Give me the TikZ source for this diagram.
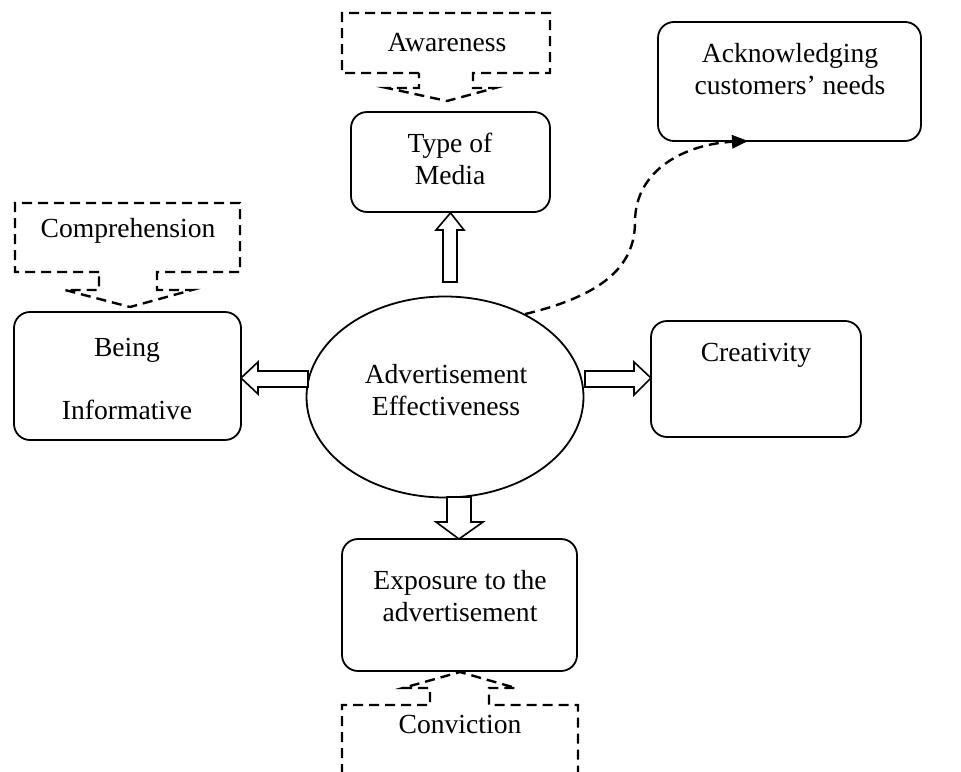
\documentclass[tikz,border=0pt]{standalone}
\usepackage{fontspec}
\setmainfont{Liberation Serif}
\usetikzlibrary{arrows.meta,shapes.geometric}
\begin{document}
\begin{tikzpicture}[x=1pt,y=-1pt,
  box/.style={draw,line width=1.8pt,rounded corners=16pt,inner sep=0pt},
  txt/.style={font=\fontsize{27.6}{32.5}\selectfont,align=center,inner sep=0pt},
  dsh/.style={line width=2.4pt,dash pattern=on 10pt off 6pt},
  hollow/.style={draw,line width=1.6pt,fill=white,line join=miter}]
\clip (0,0) rectangle (961,771);
\fill[white] (0,0) rectangle (961,771);
% boxes
\node[box,minimum width=199pt,minimum height=100pt] (media) at (450.5,162) {};
\node[box,minimum width=227pt,minimum height=128pt] (inf) at (127.5,376) {};
\node[box,minimum width=210pt,minimum height=116pt] (cre) at (756,379) {};
\node[box,minimum width=235pt,minimum height=132pt] (exp) at (459.5,605) {};
\node[box,minimum width=263pt,minimum height=119pt] (ack) at (789.5,81.5) {};
\node[draw,ellipse,line width=1.8pt,minimum width=277pt,minimum height=201pt,inner sep=0pt] (eff) at (445,397) {};
% texts
\node[txt] (tmedia) at (450,159) {Type of\\Media};
\node[txt] (tbeing) at (127,350) {Being};
\node[txt] (tinf) at (127,410) {Informative};
\node[txt] (tcre) at (756,355) {Creativity};
\node[txt] (texp) at (460,596) {Exposure to the\\advertisement};
\node[txt] (tack) at (790,69) {Acknowledging\\customers’ needs};
\node[txt] (teff) at (446,390) {Advertisement\\Effectiveness};
\node[txt] (taw) at (447,43) {Awareness};
\node[txt] (tcomp) at (128,231) {Comprehension};
\node[txt] (tconv) at (460,724) {Conviction};
% callouts
\draw[dsh] (419,73) -- (342,73) -- (342,13) -- (550,13) -- (550,73) -- (473,73) -- (473,88) -- (495,88) -- (447,101) -- (387,88) -- (419,88) -- cycle;
\draw[dsh] (99,272) -- (15,272) -- (15,203) -- (240,203) -- (240,272) -- (157,272) -- (157,290) -- (192,290) -- (130,307) -- (65,290) -- (99,290) -- cycle;
\draw[dsh] (342,790) -- (342,705) -- (430,705) -- (430,688) -- (403,688) -- (460,672) -- (516,688) -- (489,688) -- (489,705) -- (578,705) -- (578,790);
% hollow block arrows
\draw[hollow] (media.south) -- (464,230) -- (457,230) -- (457,282) -- (443,282) -- (443,230) -- (436,230) -- cycle;
\draw[hollow] (241,378) -- (258,362) -- (258,371) -- (308,371) -- (308,387) -- (258,387) -- (258,394) -- cycle;
\draw[hollow] (651,378) -- (634,362) -- (634,371) -- (585,371) -- (585,387) -- (634,387) -- (634,395) -- cycle;
\draw[hollow] (459,539) -- (436,522) -- (447,522) -- (447,497) -- (471,497) -- (471,522) -- (483,522) -- cycle;
% dashed curve
\coordinate (ackin) at (748,141);
\draw[dsh,-{Triangle[length=16pt,width=14pt,line width=0pt]}] (eff.46) .. controls (600,296) and (635,268) .. (635,222) .. controls (635,168) and (688,144) .. (ackin);
\end{tikzpicture}
\end{document}
